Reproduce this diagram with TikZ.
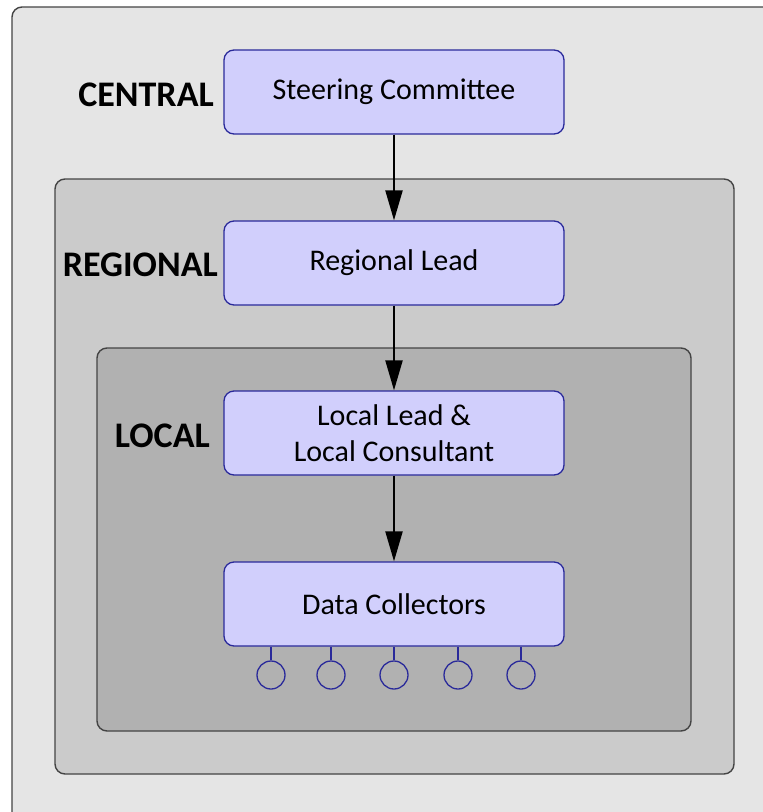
\documentclass[tikz,border=0pt]{standalone}
\usepackage{fontspec}
\setmainfont{Carlito}
\usetikzlibrary{arrows.meta}
\definecolor{outerfill}{HTML}{E5E5E5}
\definecolor{regfill}{HTML}{CBCBCB}
\definecolor{locfill}{HTML}{B1B1B1}
\definecolor{boxfill}{HTML}{D1CFFC}
\definecolor{boxline}{HTML}{2A2A9A}
\definecolor{frameline}{HTML}{444444}
\tikzset{
  frame/.style={draw=frameline, line width=1.4pt, rounded corners=10pt},
  rolebox/.style={draw=boxline, fill=boxfill, line width=1.3pt, rounded corners=10pt,
    minimum width=340pt, minimum height=84pt, align=center, font=\fontsize{30}{36}\selectfont, inner sep=0pt},
  levellabel/.style={font=\fontsize{36}{38}\selectfont\bfseries, anchor=east, inner sep=0pt},
  flow/.style={-{Triangle[length=30pt,width=17pt]}, line width=2.2pt, black},
  person/.style={circle, draw=boxline, line width=1.3pt, minimum size=28pt, inner sep=0pt},
  stem/.style={draw=boxline, line width=1.3pt}
}
\begin{document}
\begin{tikzpicture}[x=1pt,y=-1pt]
\useasboundingbox (0,0) rectangle (763,812);
\fill[white] (0,0) rectangle (763,812);
\draw[frame, fill=outerfill] (12,7) rectangle (790,840);
\draw[frame, fill=regfill] (55,179) rectangle (734,774);
\draw[frame, fill=locfill] (97,348) rectangle (691,731);
\node[rolebox] (sc) at (394,92) {Steering Committee};
\node[rolebox] (rl) at (394,263) {Regional Lead};
\node[rolebox] (ll) at (394,433) {Local Lead \&\\Local Consultant};
\node[rolebox] (dc) at (394,604) {Data Collectors};
\node[levellabel] (lc) at (214,95) {CENTRAL};
\node[levellabel] (lr) at (218,265) {REGIONAL};
\node[levellabel] (lo) at (210,436) {LOCAL};
\draw[flow] (sc) -- (rl);
\draw[flow] (rl) -- (ll);
\draw[flow] (ll) -- (dc);
\foreach \i/\x in {1/271,2/331,3/394,4/458,5/521}{
  \node[person] (p\i) at (\x,675) {};
  \draw[stem] (p\i.north) -- (p\i.north |- dc.south);
}
\end{tikzpicture}
\end{document}
